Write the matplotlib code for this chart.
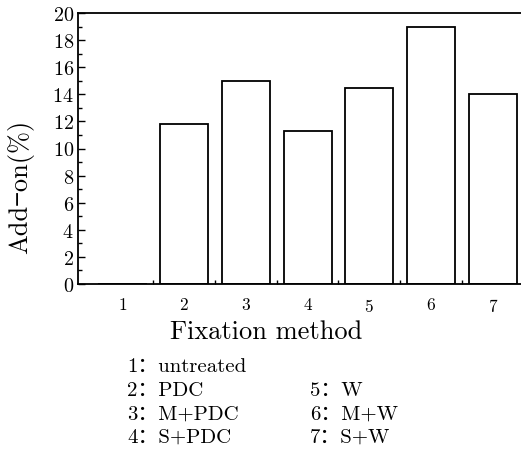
import matplotlib
matplotlib.use("Agg")
from matplotlib import pyplot as plt
from matplotlib.ticker import MultipleLocator, FixedLocator

plt.rcParams['font.family'] = ['cmr10', 'Noto Sans CJK SC', 'DejaVu Serif']
plt.rcParams['axes.formatter.use_mathtext'] = True

methods = [1, 2, 3, 4, 5, 6, 7]
addon = [0, 11.8, 15.0, 11.3, 14.5, 19.0, 14.0]
key_left = ["1\uff1auntreated", "2\uff1aPDC", "3\uff1aM+PDC", "4\uff1aS+PDC"]
key_right = ["5\uff1aW", "6\uff1aM+W", "7\uff1aS+W"]

fig = plt.figure(figsize=(5.21, 4.52), dpi=100)
ax = fig.add_axes([78 / 521, 1 - 285 / 452, 444 / 521, 271 / 452])

ax.bar(methods, addon, width=0.78, facecolor='white', edgecolor='black', linewidth=1.3)

ax.set_xlim(0.279, 7.475)
ax.set_ylim(0, 20)
ax.set_xticks(methods)
ax.xaxis.set_minor_locator(FixedLocator([1.5, 2.5, 3.5, 4.5, 5.5, 6.5]))
ax.yaxis.set_major_locator(MultipleLocator(2))
ax.yaxis.set_minor_locator(MultipleLocator(1))
ax.tick_params(which='both', direction='in', width=1)
ax.tick_params(axis='y', which='major', length=5, labelsize=14.5, pad=3)
ax.tick_params(axis='y', which='minor', length=3)
ax.tick_params(axis='x', which='major', length=0, labelsize=12.5, pad=9)
ax.tick_params(axis='x', which='minor', length=3)
ax.spines['right'].set_visible(False)
for s in ax.spines.values():
    s.set_linewidth(1.3)

ax.set_ylabel("Add\u2212on(%)", fontsize=19, va='center')
ax.yaxis.set_label_coords((21 - 78) / 444, (285 - 187) / 271)
ax.set_xlabel("Fixation method", fontsize=19, va='center')
ax.xaxis.set_label_coords((266.5 - 78) / 444, (285 - 332) / 271)

for i, t in enumerate(key_left):
    fig.text(127 / 521, 1 - (367 + i * 23.7) / 452, t, fontsize=15, va='center', ha='left')
for i, t in enumerate(key_right):
    fig.text(310 / 521, 1 - (391 + i * 23.5) / 452, t, fontsize=15, va='center', ha='left')

fig.savefig("out.png", dpi=100)
